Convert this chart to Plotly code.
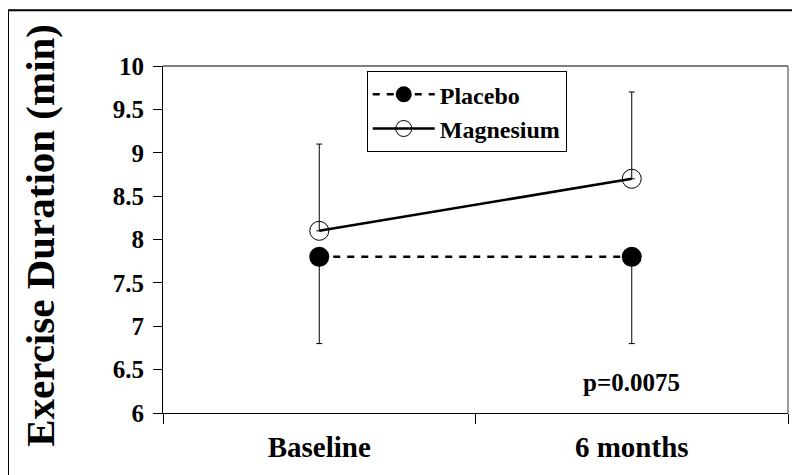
import plotly.graph_objects as go

categories = ["Baseline", "6 months"]
placebo = [7.8, 7.8]
placebo_err_minus = [1.0, 1.0]
magnesium = [8.1, 8.7]
magnesium_err_plus = [1.0, 1.0]
y_ticks = [6, 6.5, 7, 7.5, 8, 8.5, 9, 9.5, 10]
p_text = "p=0.0075"

FONT = "Liberation Serif"

fig = go.Figure()
fig.add_trace(go.Scatter(
    x=categories, y=placebo, name="Placebo", mode="lines+markers",
    line=dict(color="black", width=2.5, dash="7px,7px"),
    marker=dict(symbol="circle", size=20, color="black"),
    error_y=dict(type="data", symmetric=False, array=[0, 0],
                 arrayminus=placebo_err_minus, color="black",
                 thickness=1, width=3),
))
fig.add_trace(go.Scatter(
    x=categories, y=magnesium, name="Magnesium", mode="lines+markers",
    line=dict(color="black", width=2.5),
    marker=dict(symbol="circle-open", size=19, color="black",
                line=dict(width=1, color="black")),
    error_y=dict(type="data", symmetric=False, array=magnesium_err_plus,
                 arrayminus=[0, 0], color="black", thickness=1, width=3),
))

# page body has an 8px margin, so the figure is 8px smaller and offset
fig.update_layout(
    width=792, height=467,
    margin=dict(l=155, r=12, t=58, b=62),
    paper_bgcolor="white", plot_bgcolor="white",
    font=dict(family=FONT, color="black", weight="bold"),
    showlegend=True,
    legend=dict(x=0.326, y=0.985, xanchor="left", yanchor="top",
                bordercolor="black", borderwidth=1, bgcolor="white",
                font=dict(family=FONT, size=24, weight="bold"),
                tracegroupgap=0, itemwidth=62),
    xaxis=dict(type="category", range=[-0.5, 1.5], tickson="boundaries",
               ticks="outside", ticklen=10, tickcolor="black",
               showline=True, linecolor="black", linewidth=1,
               showgrid=False, zeroline=False,
               tickfont=dict(family=FONT, size=29, weight="bold"),
               ticklabelstandoff=8),
    yaxis=dict(range=[6, 10], tickvals=y_ticks, ticks="outside", ticklen=9,
               tickcolor="black", showline=True, linecolor="black",
               linewidth=1, showgrid=False, zeroline=False,
               tickfont=dict(family=FONT, size=25, weight="bold"),
               ticklabelstandoff=4),
)

# plot frame top/right (gray)
fig.add_shape(type="line", xref="paper", yref="paper", x0=0, x1=1, y0=1, y1=1,
              line=dict(color="#555555", width=1.5))
fig.add_shape(type="line", xref="paper", yref="paper", x0=1, x1=1, y0=0, y1=1,
              line=dict(color="#777777", width=1.5))
# outer figure border
fig.add_shape(type="rect", xref="paper", yref="paper",
              x0=-0.248, x1=1.3, y0=-0.5, y1=1.161,
              line=dict(color="black", width=2))

fig.add_annotation(text="Exercise Duration (min)", xref="paper", yref="paper",
                   x=-0.197, y=0.513, textangle=-90, showarrow=False,
                   xanchor="center", yanchor="middle",
                   font=dict(family=FONT, size=41, weight="bold"))
fig.add_annotation(text=p_text, xref="x", yref="y", x=1, y=6.35,
                   showarrow=False, xanchor="center", yanchor="middle",
                   font=dict(family=FONT, size=25, weight="bold"))

fig.write_html("out.html")
